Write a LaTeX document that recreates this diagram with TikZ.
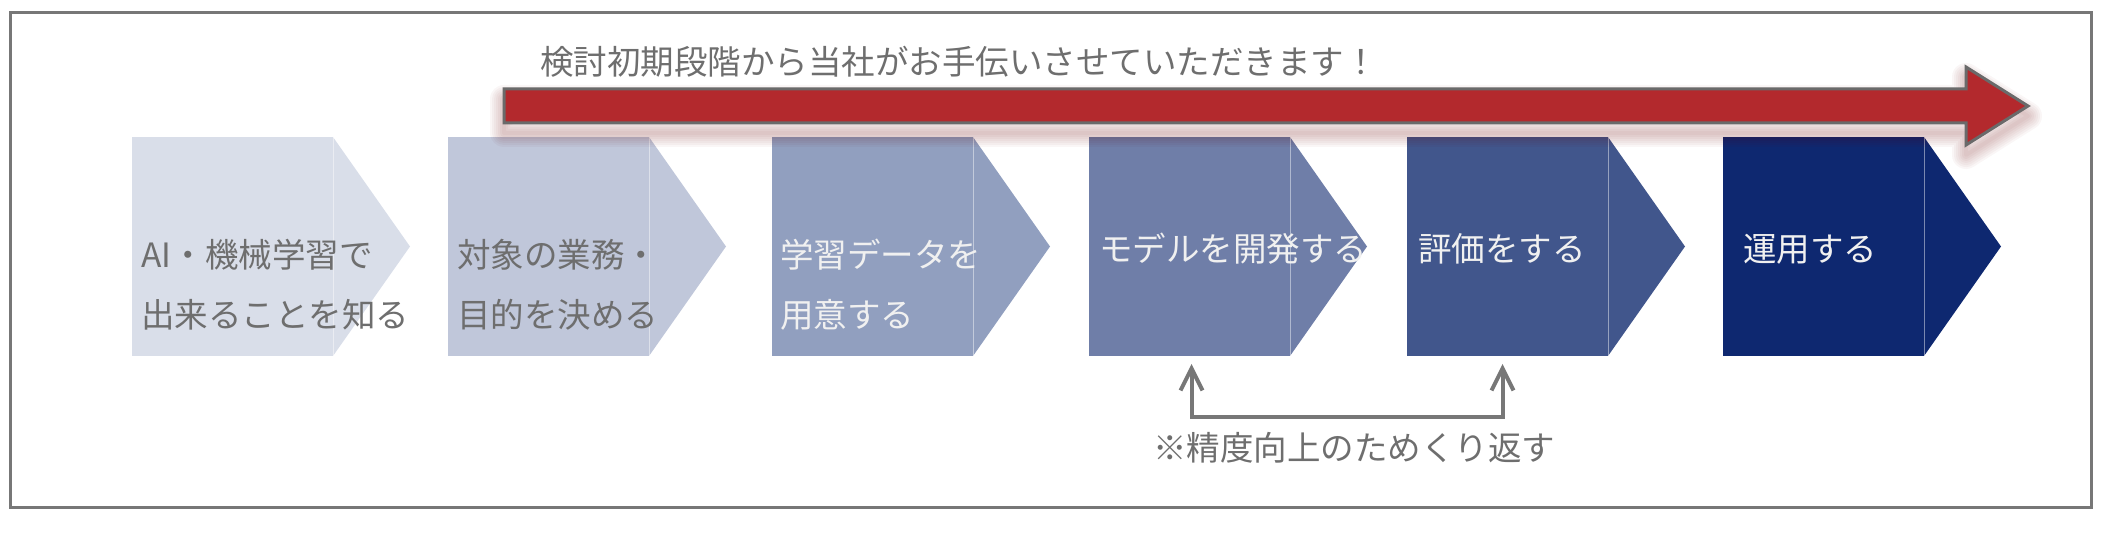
\documentclass[tikz,border=0pt]{standalone}
\usepackage{fontspec}
\setmainfont{Noto Sans CJK JP}
\usetikzlibrary{arrows.meta}
\usetikzlibrary{calc}
\definecolor{stepa}{HTML}{D9DEE9}
\definecolor{stepb}{HTML}{C0C7DA}
\definecolor{stepc}{HTML}{919FBF}
\definecolor{stepd}{HTML}{6F7EA8}
\definecolor{stepe}{HTML}{41568C}
\definecolor{stepf}{HTML}{0E2870}
\definecolor{txtgray}{HTML}{6E6E6E}
\definecolor{txtlight}{HTML}{F0F0F0}
\definecolor{framegray}{HTML}{777777}
\definecolor{supportred}{HTML}{B3292D}
\definecolor{supportedge}{HTML}{6A6A6A}
\newcommand{\supportpath}{(504,89) -- (1966,89) -- (1966,67) -- (2028,106) -- (1966,145) -- (1966,123) -- (504,123) -- cycle}

\begin{document}
\begin{tikzpicture}[x=0.5pt,y=-0.5pt,
  stepbox/.style={minimum width=100.5pt, minimum height=109.5pt, inner sep=0pt, outer sep=0pt},
  steptext/.style={anchor=west, inner sep=0pt, align=left, font=\fontsize{16.75pt}{30pt}\selectfont},
  divider/.style={white, opacity=0.45, line width=0.5pt},
  glowline/.style={red!40!black, opacity=0.035, line join=round},
  loopline/.style={draw=framegray, line width=2pt, {Straight Barb[length=11pt,width=11pt]}-{Straight Barb[length=11pt,width=11pt]}}]

\useasboundingbox (0,0) rectangle (2106,534);
\draw [framegray, line width=1.5pt] (10,12.5) rectangle (2091,507);

% steps
\node [stepbox, fill=stepa] (s1) at (232.5,246.5) {};
\node [stepbox, fill=stepb] (s2) at (548.5,246.5) {};
\node [stepbox, fill=stepc] (s3) at (872.5,246.5) {};
\node [stepbox, fill=stepd] (s4) at (1189.5,246.5) {};
\node [stepbox, fill=stepe] (s5) at (1507.5,246.5) {};
\node [stepbox, fill=stepf] (s6) at (1823.5,246.5) {};
\fill [stepa] (s1.north east) -- ([shift={(77,0)}]s1.east) -- (s1.south east) -- cycle;
\fill [stepb] (s2.north east) -- ([shift={(77,0)}]s2.east) -- (s2.south east) -- cycle;
\fill [stepc] (s3.north east) -- ([shift={(77,0)}]s3.east) -- (s3.south east) -- cycle;
\fill [stepd] (s4.north east) -- ([shift={(77,0)}]s4.east) -- (s4.south east) -- cycle;
\fill [stepe] (s5.north east) -- ([shift={(77,0)}]s5.east) -- (s5.south east) -- cycle;
\fill [stepf] (s6.north east) -- ([shift={(77,0)}]s6.east) -- (s6.south east) -- cycle;
\draw [divider] (s1.north east) -- (s1.south east);
\draw [divider] (s2.north east) -- (s2.south east);
\draw [divider] (s3.north east) -- (s3.south east);
\draw [divider] (s4.north east) -- (s4.south east);
\draw [divider] (s5.north east) -- (s5.south east);
\draw [divider] (s6.north east) -- (s6.south east);

\node [steptext, text=txtgray] (t1) at (141,285) {AI・機械学習で\\出来ることを知る};
\node [steptext, text=txtgray] (t2) at (457,285) {対象の業務・\\目的を決める};
\node [steptext, text=txtlight] (t3) at (780,285) {学習データを\\用意する};
\node [steptext, text=txtlight] (t4) at (1099,249) {モデルを開発する};
\node [steptext, text=txtlight] (t5) at (1418,249) {評価をする};
\node [steptext, text=txtlight] (t6) at (1743,249) {運用する};

% support arrow
\foreach \w in {4,8,...,28}
  \draw [glowline, line width=\w*0.5pt, yshift=-5pt] \supportpath;
\draw [fill=supportred, draw=supportedge, line width=1.5pt] \supportpath;
\node [steptext, text=txtgray] (title) at (540,62) {検討初期段階から当社がお手伝いさせていただきます！};

% repeat loop
\coordinate (l4) at ([xshift=1pt, yshift=-4pt]s4.south);
\coordinate (l5) at ([xshift=-2.5pt, yshift=-4pt]s5.south);
\draw [loopline] (l4) -- ++(0,53) -| (l5);
\node [steptext, text=txtgray] (note) at (1153,448) {※精度向上のためくり返す};
\end{tikzpicture}
\end{document}
